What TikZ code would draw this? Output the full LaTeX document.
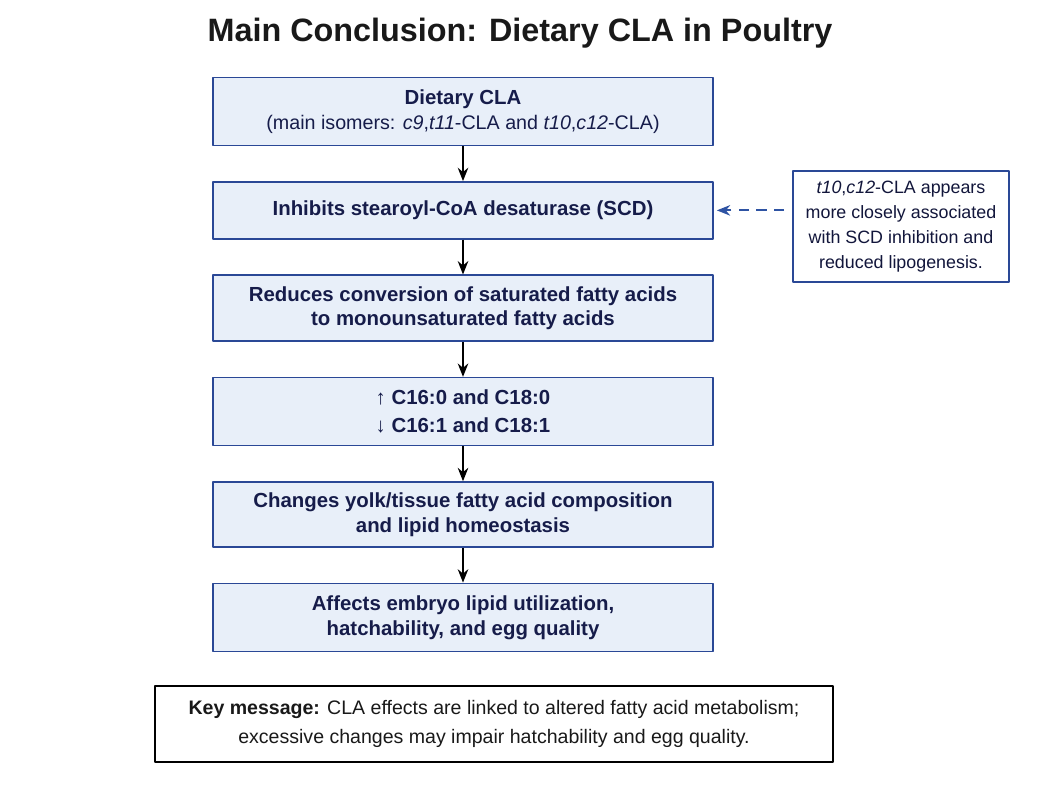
\documentclass[tikz,border=0pt]{standalone}
\usepackage{fontspec}
\setmainfont{Liberation Sans}
\usetikzlibrary{positioning,arrows.meta}
\definecolor{boxfill}{HTML}{E8EFF9}
\definecolor{boxline}{HTML}{2A4896}
\definecolor{navy}{HTML}{161C4A}
\definecolor{dashblue}{HTML}{2E53A3}
\begin{document}
\begin{tikzpicture}[x=0.025cm, y=-0.025cm, >={Stealth[length=9.5pt,width=7.5pt]}, line join=round,
    node distance=0.87cm,
    box/.style={draw=boxline, fill=boxfill, line width=1.1pt, minimum width=12.5cm,
      minimum height=1.7cm, align=center, text=navy,
      font=\fontsize{14.5}{17.7}\selectfont\bfseries},
    note/.style={draw=boxline, fill=white, line width=1.1pt, minimum width=5.4cm,
      minimum height=2.775cm, align=center, text=navy!80!black,
      font=\fontsize{12.7}{17.7}\selectfont},
    keybox/.style={draw=black, line width=1.5pt, minimum width=16.95cm,
      minimum height=1.9cm, align=center, text=black!90,
      font=\fontsize{13.9}{20}\selectfont},
    arr/.style={->, line width=1.1pt, black}]
  \useasboundingbox (0,0) rectangle (1048,786);
  % title
  \node (title) at (520,33) [font=\fontsize{23}{28}\selectfont\bfseries, text=black!90]
    {Main Conclusion: Dietary CLA in Poultry};
  % main chain
  \node (cla) at (463,111.5) [box] {Dietary CLA\\
    {\mdseries\fontsize{14}{17.7}\selectfont (main isomers: \textit{c9},\textit{t11}-CLA and \textit{t10},\textit{c12}-CLA)}};
  \node (scd) [box, minimum height=1.425cm, below=of cla]
    {Inhibits stearoyl-CoA desaturase (SCD)};
  \node (conv) [box, minimum height=1.65cm, below=of scd]
    {Reduces conversion of saturated fatty acids\\ to monounsaturated fatty acids};
  \node (fa) [box, font=\fontsize{14.5}{20}\selectfont\bfseries, below=of conv]
    {↑ C16:0 and C18:0\\ ↓ C16:1 and C18:1};
  \node (yolk) [box, minimum height=1.625cm, below=of fa]
    {Changes yolk/tissue fatty acid composition\\ and lipid homeostasis};
  \node (embryo) [box, below=of yolk]
    {Affects embryo lipid utilization,\\ hatchability, and egg quality};
  \draw[arr] (cla) -- (scd);
  \draw[arr] (scd) -- (conv);
  \draw[arr] (conv) -- (fa);
  \draw[arr] (fa) -- (yolk);
  \draw[arr] (yolk) -- (embryo);
  % side note
  \node (isomer) at (901,226.5) [note]
    {\textit{t10},\textit{c12}-CLA appears\\ more closely associated\\
     with SCD inhibition and\\ reduced lipogenesis.};
  \draw[->, dashblue, line width=1.3pt, dash pattern=on 7.5pt off 5pt,
    shorten <=0.2cm, shorten >=0.075cm] (isomer.west |- scd.east) -- (scd.east);
  % key message
  \node (key) at (494,724) [keybox]
    {\textbf{Key message:} CLA effects are linked to altered fatty acid metabolism;\\
     excessive changes may impair hatchability and egg quality.};
\end{tikzpicture}
\end{document}
